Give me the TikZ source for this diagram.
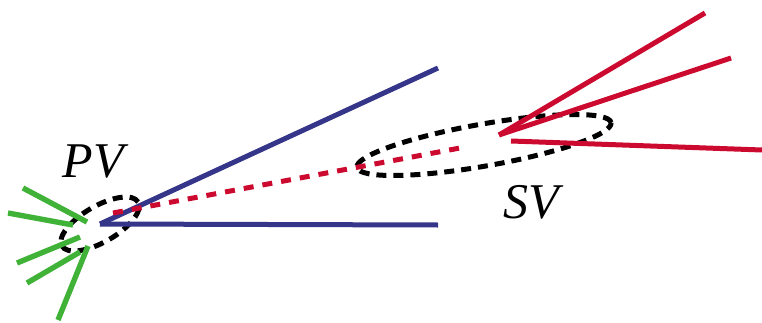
\documentclass[tikz,border=0pt]{standalone}
\usepackage{fontspec}
\setmainfont{Liberation Serif}
\usetikzlibrary{positioning,calc,shapes.geometric}
\usepackage{xcolor}
\definecolor{navy}{HTML}{35358A}
\definecolor{crimson}{HTML}{CC0A2F}
\definecolor{leaf}{HTML}{3FB237}

\begin{document}
\begin{tikzpicture}[
  x=1pt, y=1pt,
  trk/.style={line width=5pt},
  prim/.style={trk, navy},
  sec/.style={trk, crimson},
  soft/.style={line width=5.4pt, leaf},
  flight/.style={line width=5pt, crimson, dash pattern=on 10pt off 9pt},
  ring/.style={draw=black, line width=5pt, dash pattern=on 10pt off 7pt, ellipse, inner sep=0pt},
  lbl/.style={font=\fontsize{50}{54}\selectfont\itshape}
]
\useasboundingbox (0,0) rectangle (762,322);

% vertices
\coordinate (pv) at (100,98);
\coordinate (sv) at (499,187);
\coordinate (svb) at (511,181);

\node[ring, minimum width=88pt, minimum height=36pt, rotate=30] (pvring) at (100,98) {};
\node[ring, minimum width=258pt, minimum height=42pt, rotate=10] (svring) at (484,177) {};

\node[lbl] (pvlbl) at (93,160) {PV};
\node[lbl] (svlbl) at (531,120) {SV};

% soft tracks from PV
\coordinate (g1) at (23,134); \coordinate (g1e) at (87,100);
\coordinate (g2) at (8,109);  \coordinate (g2e) at (73,97);
\coordinate (g3) at (17,59);  \coordinate (g3e) at (80,85);
\coordinate (g4) at (27,39);  \coordinate (g4e) at (80,70);
\coordinate (g5) at (58,2);   \coordinate (g5e) at (88,76);
\foreach \i in {1,...,5} \draw[soft] (g\i)--(g\i e);

% primary tracks
\coordinate (b1) at (438,254);
\coordinate (b2) at (438,97);
\draw[prim] (pv)--(b1);
\draw[prim] (pv)--(b2);

% flight path
\coordinate (fl0) at (113,109);
\coordinate (fl1) at (460,174);
\draw[flight] (fl0)--(fl1);

% secondary tracks
\coordinate (r1) at (705,309);
\coordinate (r2) at (731,264);
\coordinate (r3) at (762,172);
\draw[sec] (sv)--(r1);
\draw[sec] (sv)--(r2);
\draw[sec] (svb)--(r3);
\end{tikzpicture}
\end{document}
